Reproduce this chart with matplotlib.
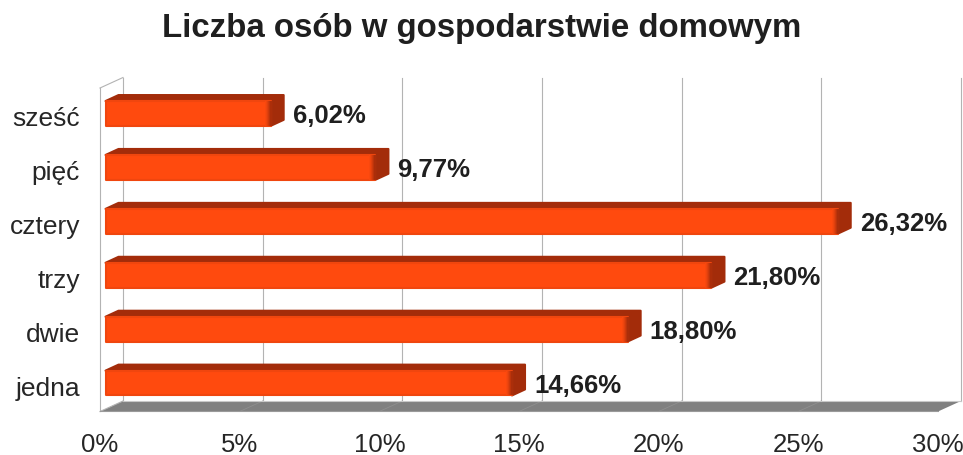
import matplotlib
matplotlib.use('Agg')
import matplotlib.pyplot as plt
from matplotlib.patches import Polygon
from matplotlib.transforms import ScaledTranslation

plt.rcParams['font.family'] = ['Liberation Sans', 'DejaVu Sans']

categories = ['jedna', 'dwie', 'trzy', 'cztery', 'pięć', 'sześć']
values = [14.66, 18.80, 21.80, 26.32, 9.77, 6.02]
value_labels = ['14,66%', '18,80%', '21,80%', '26,32%', '9,77%', '6,02%']
ticks = [0, 5, 10, 15, 20, 25, 30]
tick_labels = ['0%', '5%', '10%', '15%', '20%', '25%', '30%']

W, H = 963, 456
DPI = 100
fig = plt.figure(figsize=(W / DPI, H / DPI), dpi=DPI)
# axes box is the front plane of the fake 3d chart
left, right, top, bottom = 100, 938, 89, 412.5
ax = fig.add_axes([left / W, 1 - bottom / H, (right - left) / W, (bottom - top) / H])
ax.set_xlim(0, 30)
ax.set_ylim(-0.5, 5.5)
ax.axis('off')

px_x = 30 / (right - left)
px_y = 6 / (bottom - top)
depth_x, depth_y = 23 * px_x, 10.5 * px_y


def shift(dx, dy):
    # offset in pixels from the front plane, dy goes up
    return ax.transData + ScaledTranslation(dx / DPI, dy / DPI, fig.dpi_scale_trans)


back = shift(23, 10.5)

# floor
ax.add_patch(Polygon([(0, -0.5), (30, -0.5), (30 + depth_x, -0.5 + depth_y), (depth_x, -0.5 + depth_y)],
                     closed=True, facecolor='#808080', edgecolor='none', clip_on=False, zorder=1))

# walls and grid
for t in ticks:
    ax.plot([t, t], [-0.5, 5.5], transform=back, color='#b3b3b3', lw=0.8, clip_on=False, zorder=2)
    if 0 < t < 30:
        ax.plot([t, t + depth_x], [-0.5, -0.5 + depth_y], color='#8f8f8f', lw=0.6, clip_on=False, zorder=2)
ax.plot([0, 30], [-0.5, -0.5], transform=back, color='#c8c8c8', lw=0.8, clip_on=False, zorder=2)
ax.plot([0, 0], [-0.5, 5.5], color='#b3b3b3', lw=0.8, clip_on=False, zorder=2)
ax.plot([0, depth_x], [5.5, 5.5 + depth_y], color='#b3b3b3', lw=0.8, clip_on=False, zorder=2)
ax.plot([0, depth_x], [-0.5, -0.5 + depth_y], color='#b3b3b3', lw=0.8, clip_on=False, zorder=2)
ax.plot([0, 30], [-0.5, -0.5], color='#9a9a9a', lw=0.8, clip_on=False, zorder=2)

# bars
half = 0.23
fx, fy = 2.5, 1.5
x0 = 3 * px_x
dark = '#a32c0a'
front = '#ff4a0e'
fade = ['#f8480e', '#ee450e', '#e0400d', '#cf3a0c', '#bc340b', '#ab2e0a']
tr = shift(fx, fy)
for i, v in enumerate(values):
    ddx, ddy = 13 * px_x, 6 * px_y
    # top and side faces first, then the front face
    ax.add_patch(Polygon([(x0, i + half), (x0 + ddx, i + half + ddy), (v + ddx, i + half + ddy),
                          (v + ddx, i - half + ddy), (v, i - half), (v, i + half)],
                         closed=True, facecolor=dark, edgecolor=dark, lw=1.5, joinstyle='round',
                         transform=tr, clip_on=False, zorder=3))
    ax.add_patch(Polygon([(x0, i - half), (v, i - half), (v, i + half), (x0, i + half)],
                         closed=True, facecolor=front, edgecolor='#f0460e', lw=1.5, joinstyle='round',
                         transform=tr, clip_on=False, zorder=4))
    # dark fade at the right end of the front face
    for k, c in enumerate(fade):
        ax.fill_betweenx([i - half, i + half], v - (6 - k) * px_x, v + px_x, color=c, lw=0,
                         transform=tr, clip_on=False, zorder=5 + k)
    ax.annotate(value_labels[i], xy=(v, i), xycoords=tr, xytext=(22 * 0.72, -1.5 * 0.72),
                textcoords='offset points', ha='left', va='center', fontsize=18.5,
                fontweight='bold', color='#1f1f1f', zorder=12)

# category labels
for i, c in enumerate(categories):
    ax.annotate(c, xy=(0, i), xytext=(-20 * 0.72, -3 * 0.72), textcoords='offset points',
                ha='right', va='center', fontsize=19, color='#262626', annotation_clip=False)

# x tick labels, they sit right at the bottom edge like the original
for t, lab in zip(ticks, tick_labels):
    ax.annotate(lab, xy=(t, -0.5), xytext=(0, -33 * 0.72), textcoords='offset points',
                ha='center', va='center', fontsize=18.5, color='#262626', annotation_clip=False)

fig.text(482 / W, 1 - 29 / H, 'Liczba osób w gospodarstwie domowym', ha='center', va='center',
         fontsize=23.75, fontweight='bold', color='#1f1f1f')

fig.savefig('out.png', dpi=DPI)
